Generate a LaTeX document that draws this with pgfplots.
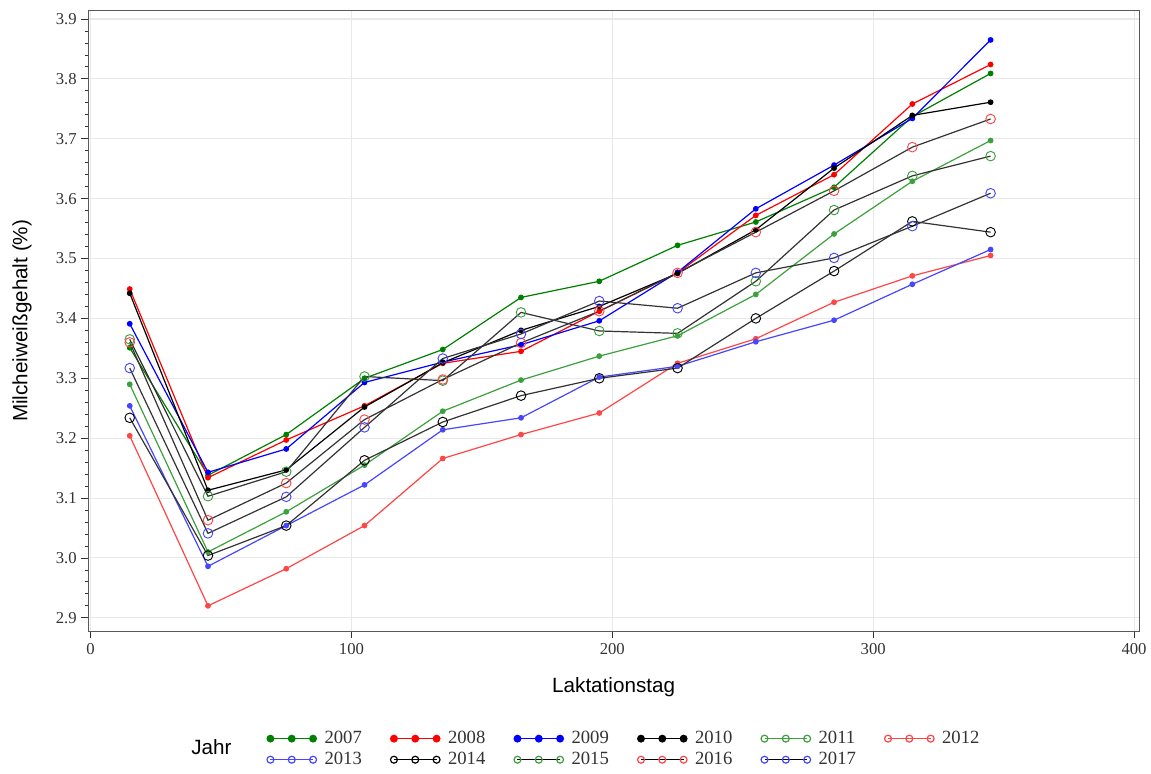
\documentclass[border=0pt]{standalone}
\usepackage{pgfplots}
\usepackage{pgfplotstable}
\pgfplotsset{compat=1.18}
\usepackage{fontspec}
\setmainfont{Liberation Serif}
\setsansfont{Liberation Sans}
\definecolor{cgA}{RGB}{0,128,0}
\definecolor{cgB}{RGB}{60,160,60}
\definecolor{crA}{RGB}{255,0,0}
\definecolor{crB}{RGB}{255,70,70}
\definecolor{cbA}{RGB}{0,0,255}
\definecolor{cbB}{RGB}{70,70,255}
\definecolor{gridc}{RGB}{232,232,232}

\pgfplotstableread{
x   y07   y08   y09   y10   y11   y12   y13   y14   y15   y16   y17
15  3.351 3.449 3.391 3.442 3.290 3.204 3.254 3.234 3.365 3.360 3.317
45  3.138 3.134 3.143 3.113 3.010 2.920 2.986 3.004 3.103 3.063 3.041
75  3.206 3.197 3.182 3.147 3.077 2.982 3.054 3.054 3.144 3.125 3.102
105 3.300 3.254 3.293 3.252 3.155 3.054 3.122 3.163 3.303 3.231 3.218
135 3.348 3.325 3.327 3.326 3.245 3.166 3.214 3.227 3.296 3.298 3.333
165 3.435 3.345 3.356 3.380 3.297 3.206 3.234 3.271 3.410 3.359 3.374
195 3.462 3.412 3.396 3.420 3.337 3.242 3.302 3.300 3.379 3.412 3.429
225 3.522 3.476 3.477 3.475 3.371 3.325 3.320 3.317 3.375 3.476 3.417
255 3.561 3.572 3.583 3.548 3.440 3.366 3.361 3.400 3.462 3.544 3.476
285 3.619 3.640 3.656 3.651 3.541 3.427 3.397 3.479 3.581 3.613 3.501
315 3.737 3.758 3.734 3.739 3.629 3.471 3.457 3.562 3.638 3.686 3.554
345 3.809 3.824 3.865 3.761 3.697 3.505 3.515 3.544 3.671 3.733 3.609
}\data

\begin{document}
\begin{tikzpicture}
\begin{axis}[
  scale only axis, width=789pt, height=466.5pt,
  xmin=-1, xmax=402, ymin=2.877, ymax=3.915,
  xtick={0,100,200,300,400},
  ytick={2.9,3.0,3.1,3.2,3.3,3.4,3.5,3.6,3.7,3.8,3.9},
  minor y tick num=4,
  tick align=outside, xtick pos=bottom, ytick pos=left,
  major tick length=5pt, minor tick length=2.5pt,
  grid=major, major grid style={gridc, line width=0.8pt},
  axis line style={black!65},
  tick style={black!80, line width=0.6pt},
  yticklabel style={/pgf/number format/.cd, fixed, fixed zerofill, precision=1},
  /pgf/number format/assume math mode=true,
  tick label style={font=\fontsize{12.5}{14}\selectfont, black!80},
  xlabel={Laktationstag}, ylabel={Milcheiweißgehalt (\%)},
  every axis y label/.style={at={(axis description cs:-0.0627,0.5)}, rotate=90, anchor=center,
    font=\sffamily\fontsize{15.5}{18}\selectfont},
  every axis x label/.style={at={(axis description cs:0.5,-0.09)}, anchor=center,
    font=\sffamily\fontsize{15.5}{18}\selectfont},
  clip=false,
  legend columns=6,
  legend image code/.code={\draw[#1] plot coordinates {(0pt,0pt) (16pt,0pt) (32pt,0pt)};},
  legend style={draw=none, fill=none, at={(axis description cs:0.170,-0.157)}, anchor=north west,
    font=\fontsize{14}{15}\selectfont, text=black!80, inner sep=0pt,
    nodes={inner sep=1.5pt}, row sep=2pt,
    /tikz/every odd column/.append style={column sep=4.5pt},
    /tikz/every even column/.append style={column sep=20pt}},
  legend cell align=left,
]
% legend images
\addlegendimage{cgA, line width=0.9pt, mark=*, mark size=2.5pt}
\addlegendentry{2007}
\addlegendimage{crA, line width=0.9pt, mark=*, mark size=2.5pt}
\addlegendentry{2008}
\addlegendimage{cbA, line width=0.9pt, mark=*, mark size=2.5pt}
\addlegendentry{2009}
\addlegendimage{black, line width=0.9pt, mark=*, mark size=2.5pt}
\addlegendentry{2010}
\addlegendimage{cgB, line width=0.9pt, mark=o, mark size=2.6pt}
\addlegendentry{2011}
\addlegendimage{crB, line width=0.9pt, mark=o, mark size=2.6pt}
\addlegendentry{2012}
\addlegendimage{cbB, line width=0.9pt, mark=o, mark size=2.6pt}
\addlegendentry{2013}
\addlegendimage{black, line width=0.9pt, mark=o, mark size=2.6pt}
\addlegendentry{2014}
\addlegendimage{black, line width=0.9pt, mark=o, mark size=2.6pt, mark options={cgB}}
\addlegendentry{2015}
\addlegendimage{black, line width=0.9pt, mark=o, mark size=2.6pt, mark options={crB}}
\addlegendentry{2016}
\addlegendimage{black, line width=0.9pt, mark=o, mark size=2.6pt, mark options={cbB}}
\addlegendentry{2017}

% data
\addplot[forget plot, cgA, line width=0.9pt, mark=*, mark size=1.7pt] table[x=x,y=y07]{\data};
\addplot[forget plot, crA, line width=0.9pt, mark=*, mark size=1.7pt] table[x=x,y=y08]{\data};
\addplot[forget plot, cbA, line width=0.9pt, mark=*, mark size=1.7pt] table[x=x,y=y09]{\data};
\addplot[forget plot, black, line width=0.9pt, mark=*, mark size=1.7pt] table[x=x,y=y10]{\data};
\addplot[forget plot, cgB, line width=0.9pt, mark=*, mark size=1.7pt] table[x=x,y=y11]{\data};
\addplot[forget plot, crB, line width=0.9pt, mark=*, mark size=1.7pt] table[x=x,y=y12]{\data};
\addplot[forget plot, cbB, line width=0.9pt, mark=*, mark size=1.7pt] table[x=x,y=y13]{\data};
\addplot[forget plot, black!80, line width=0.9pt, mark=o, mark size=3.6pt, mark options={black, line width=0.7pt}] table[x=x,y=y14]{\data};
\addplot[forget plot, black!80, line width=0.9pt, mark=o, mark size=3.6pt, mark options={cgB, line width=0.7pt}] table[x=x,y=y15]{\data};
\addplot[forget plot, black!80, line width=0.9pt, mark=o, mark size=3.6pt, mark options={crB, line width=0.7pt}] table[x=x,y=y16]{\data};
\addplot[forget plot, black!80, line width=0.9pt, mark=o, mark size=3.6pt, mark options={cbB, line width=0.7pt}] table[x=x,y=y17]{\data};

\node[font=\sffamily\fontsize{15.5}{18}\selectfont, anchor=center] at (axis description cs:0.1175,-0.186) {Jahr};
\path (axis description cs:-0.0837,-0.2283) rectangle (axis description cs:1.0105,1.0161);
\end{axis}
\end{tikzpicture}
\end{document}
